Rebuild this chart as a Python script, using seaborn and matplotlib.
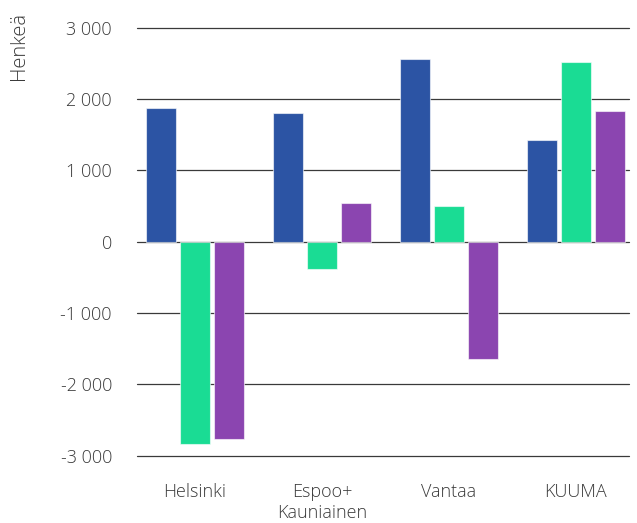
import matplotlib
matplotlib.use("Agg")
import matplotlib.pyplot as plt
from matplotlib.ticker import FuncFormatter, FixedLocator
import seaborn as sns
import pandas as pd

# Population change by area, three series per area
areas = ["Helsinki", "Espoo+\nKauniainen", "Vantaa", "KUUMA"]
series_names = ["Sarja 1", "Sarja 2", "Sarja 3"]
series_a = [1870, 1800, 2560, 1430]
series_b = [-2830, -380, 500, 2520]
series_c = [-2760, 540, -1650, 1830]
y_ticks = [-3000, -2000, -1000, 0, 1000, 2000, 3000]
y_label = "Henkeä"

palette = ["#2C54A4", "#1ADC94", "#8B45B0"]

rows = []
for name, vals in zip(series_names, [series_a, series_b, series_c]):
    for area, v in zip(areas, vals):
        rows.append({"alue": area, "sarja": name, "arvo": v})
df = pd.DataFrame(rows)

sns.set_theme(style="white")
plt.rcParams["font.family"] = ["Open Sans", "DejaVu Sans"]

fig = plt.figure(figsize=(6.37, 5.23), dpi=100)
ax = fig.add_axes([0.215, 0.1287, 0.772, 0.8183])

sns.barplot(data=df, x="alue", y="arvo", hue="sarja", order=areas,
            hue_order=series_names, palette=palette, width=0.8, gap=0.12,
            saturation=1, legend=False, ax=ax,
            edgecolor=(1, 1, 1, 0.6), linewidth=0.8)

ax.set_ylim(-3000, 3000)
ax.set_xlim(-0.457, 3.417)
ax.yaxis.set_major_locator(FixedLocator(y_ticks))
ax.yaxis.set_major_formatter(
    FuncFormatter(lambda v, p: f"{int(v):,}".replace(",", " ")))
ax.set_axisbelow(True)
ax.grid(axis="y", color="#3a3a3a", linewidth=0.9)
ax.grid(axis="x", visible=False)
for gl in ax.get_ygridlines():
    gl.set_clip_on(False)
for s in ax.spines.values():
    s.set_visible(False)

ax.tick_params(axis="y", length=0, pad=18, labelsize=13, labelcolor="#3a3a3a")
ax.tick_params(axis="x", length=0, pad=20, labelsize=13, labelcolor="#3a3a3a")
for lbl in ax.get_yticklabels() + ax.get_xticklabels():
    lbl.set_fontweight("light")
ax.set_xlabel("")
ax.set_ylabel(y_label, loc="top", fontsize=14.5, color="#3a3a3a",
              fontweight="light")
ax.yaxis.set_label_coords(-0.22, 1.037)

fig.savefig("out.png", dpi=100)
